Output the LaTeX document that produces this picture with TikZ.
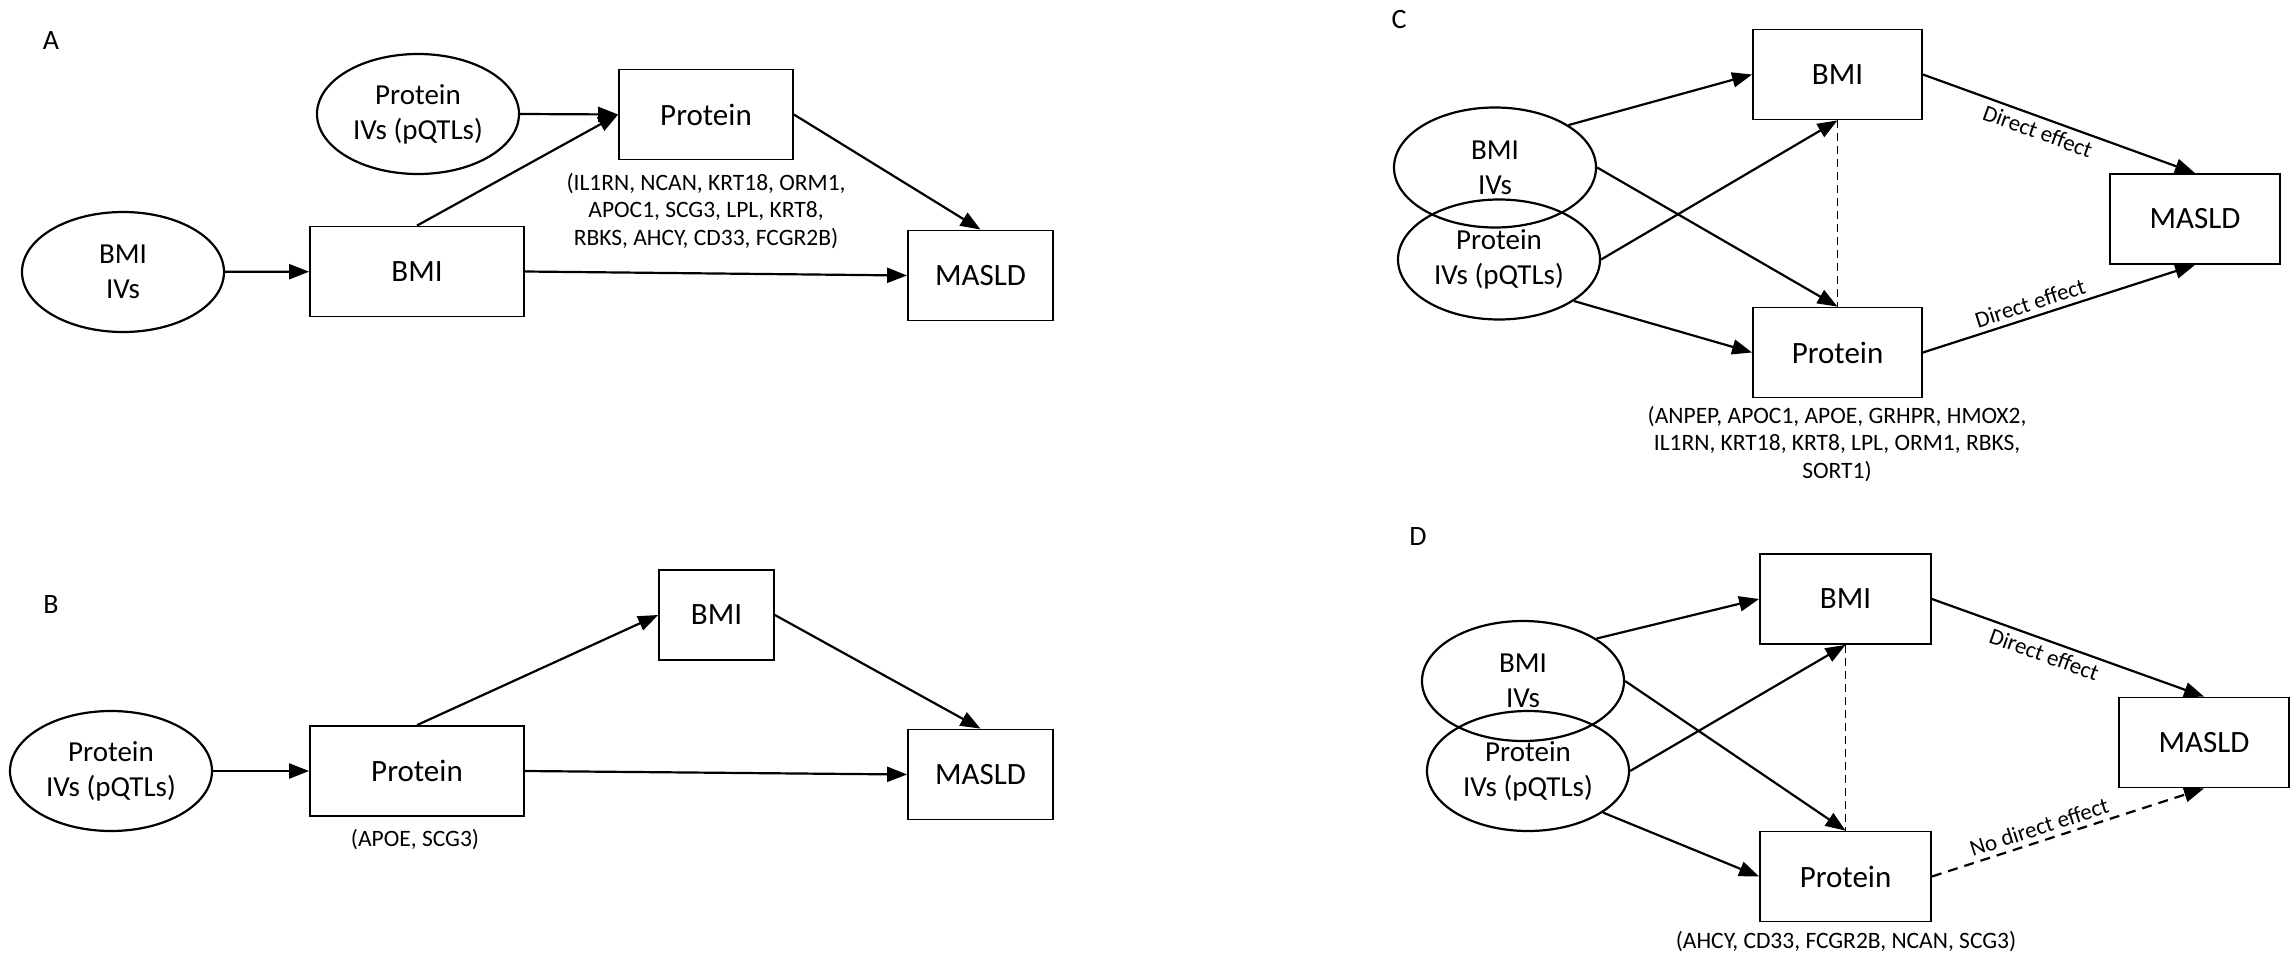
\documentclass[tikz,border=0pt]{standalone}
\usepackage{fontspec}
\setmainfont{Carlito}
\usetikzlibrary{shapes.geometric,arrows.meta,calc}
\tikzset{
  box/.style={draw, line width=1.8pt, minimum width=#1, minimum height=90pt, inner sep=0pt, font=\fontsize{31}{37}\selectfont},
  iv/.style={ellipse, draw, line width=2.2pt, minimum width=202pt, minimum height=120pt, inner sep=0pt, align=center, font=\fontsize{29}{35}\selectfont},
  arr/.style={line width=2.2pt, -{Triangle[length=20pt,width=15pt]}},
  dasharr/.style={line width=2.2pt, dash pattern=on 10pt off 7pt, -{Triangle[length=20pt,width=15pt]}},
  thindash/.style={line width=1.3pt, dash pattern=on 8pt off 5pt},
  genes/.style={align=center, font=\fontsize{23.5}{27.5}\selectfont},
  panel/.style={font=\fontsize{28}{32}\selectfont},
  eff/.style={font=\fontsize{23}{27}\selectfont, sloped, inner sep=5pt},
}
\begin{document}
\begin{tikzpicture}[x=1pt,y=-1pt]
\useasboundingbox (0,0) rectangle (2290,955);
% ---------- A ----------
\node[panel] (labA) at (51,41) {A};
\node[iv] (ivpA) at (418,114) {Protein\\IVs (pQTLs)};
\node[box=174pt] (protA) at (706,114.5) {Protein};
\node[genes] (genesA) at (706,211) {(IL1RN, NCAN, KRT18, ORM1,\\APOC1, SCG3, LPL, KRT8,\\RBKS, AHCY, CD33, FCGR2B)};
\node[iv] (ivbA) at (123,272) {BMI\\IVs};
\node[box=214pt] (bmiA) at (417,271.5) {BMI};
\node[box=145pt] (maslA) at (980.5,275.5) {MASLD};
\draw[arr] (ivbA) -- (bmiA);
\draw[arr] (ivpA.east) -- (protA.west);
\draw[arr] (bmiA.north) -- (protA.west);
\draw[arr] (protA.east) -- (maslA.north);
\draw[arr] (bmiA.east) -- (maslA.west);
% ---------- B ----------
\node[panel] (labB) at (51,605) {B};
\node[iv] (ivpB) at (111,771) {Protein\\IVs (pQTLs)};
\node[box=214pt] (protB) at (417,771) {Protein};
\node[genes] (genesB) at (415,840) {(APOE, SCG3)};
\node[box=115pt] (bmiB) at (716.5,615) {BMI};
\node[box=145pt] (maslB) at (980.5,774.5) {MASLD};
\draw[arr] (ivpB) -- (protB);
\draw[arr] (protB.north) -- (bmiB.west);
\draw[arr] (bmiB.east) -- (maslB.north);
\draw[arr] (protB.east) -- (maslB.west);
% ---------- C ----------
\node[panel] (labC) at (1399,20) {C};
\node[box=169pt] (bmiC) at (1837.5,74.5) {BMI};
\node[box=169pt] (protC) at (1837.5,352.5) {Protein};
\node[box=170pt] (maslC) at (2195,219) {MASLD};
\node[iv] (ivbC) at (1495,167.5) {BMI\\IVs};
\node[iv] (ivpC) at (1499,259.5) {Protein\\IVs (pQTLs)};
\node[genes] (genesC) at (1837,444) {(ANPEP, APOC1, APOE, GRHPR, HMOX2,\\IL1RN, KRT18, KRT8, LPL, ORM1, RBKS,\\SORT1)};
\draw[arr] (ivbC.30) -- (bmiC.west);
\draw[arr] (ivbC.east) -- (protC.north);
\draw[arr] (ivpC.east) -- (bmiC.south);
\draw[arr] (ivpC.-29) -- (protC.west);
\draw[thindash] (bmiC.south) -- (protC.north);
\draw[arr] (bmiC.east) -- node[eff, below, pos=0.44] {Direct effect} (maslC.north);
\draw[arr] (protC.east) -- node[eff, above, pos=0.41] {Direct effect} (maslC.south);
% ---------- D ----------
\node[panel] (labD) at (1418,537) {D};
\node[box=171pt] (bmiD) at (1845.5,599) {BMI};
\node[box=171pt] (protD) at (1845.5,876.5) {Protein};
\node[box=170pt] (maslD) at (2204,742.5) {MASLD};
\node[iv] (ivbD) at (1523,681) {BMI\\IVs};
\node[iv] (ivpD) at (1528,771) {Protein\\IVs (pQTLs)};
\node[genes] (genesD) at (1846,942) {(AHCY, CD33, FCGR2B, NCAN, SCG3)};
\draw[arr] (ivbD.30) -- (bmiD.west);
\draw[arr] (ivbD.east) -- (protD.north);
\draw[arr] (ivpD.east) -- (bmiD.south);
\draw[arr] (ivpD.-29) -- (protD.west);
\draw[thindash] (bmiD.south) -- (protD.north);
\draw[arr] (bmiD.east) -- node[eff, below, pos=0.43] {Direct effect} (maslD.north);
\draw[dasharr] (protD.east) -- node[eff, above, pos=0.41] {No direct effect} (maslD.south);
\end{tikzpicture}
\end{document}
